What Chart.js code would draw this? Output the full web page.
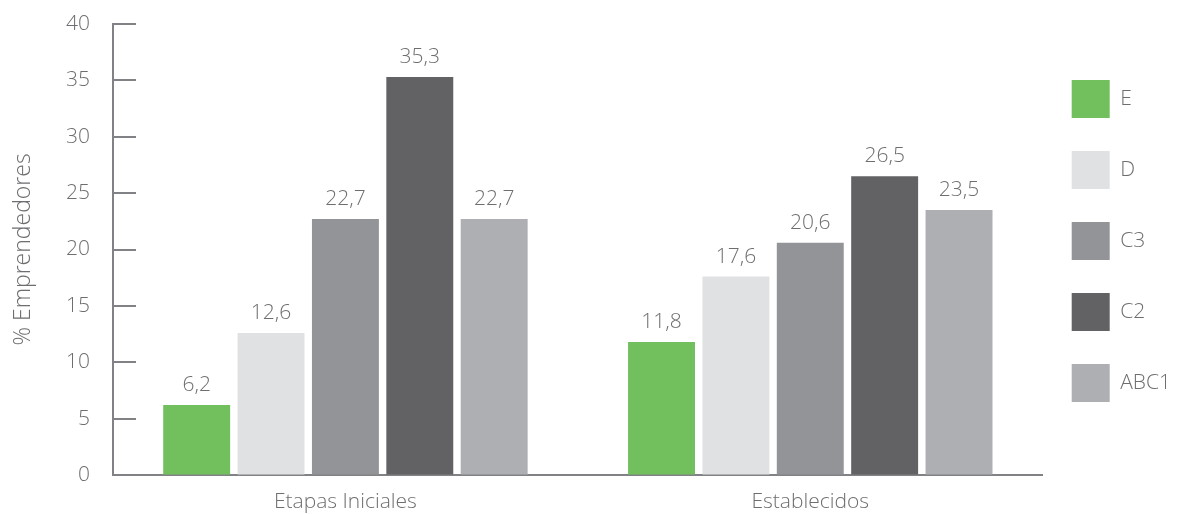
<!DOCTYPE html>
<html>
<head>
<meta charset="utf-8">
<script src="https://cdn.jsdelivr.net/npm/chart.js@4.4.1/dist/chart.umd.min.js"></script>
<style>
  html, body { margin: 0; padding: 0; background: #fff; }
  #wrap { width: 1178px; height: 514px; position: relative; }
</style>
</head>
<body>
<div id="wrap"><canvas id="chart"></canvas></div>
<script>
// categories and series
const categories = ['Etapas Iniciales', 'Establecidos'];
const seriesNames = ['E', 'D', 'C3', 'C2', 'ABC1'];
const valuesE = [6.2, 11.8];
const valuesD = [12.6, 17.6];
const valuesC3 = [22.7, 20.6];
const valuesC2 = [35.3, 26.5];
const valuesABC1 = [22.7, 23.5];
const yTicks = [0, 5, 10, 15, 20, 25, 30, 35, 40];

const colors = ['#72bf5e', '#e0e1e3', '#939497', '#626264', '#aeafb2'];
const textColor = '#6d6e71';
const axisColor = '#808285';
const fontFamily = '"Open Sans", "Segoe UI", sans-serif';

const seriesValues = [valuesE, valuesD, valuesC3, valuesC2, valuesABC1];

// short tick marks that point into the plot
const innerTicks = {
    id: 'innerTicks',
    afterDraw(chart) {
        const y = chart.scales.y;
        const ctx = chart.ctx;
        ctx.save();
        ctx.strokeStyle = axisColor;
        ctx.lineWidth = 2;
        yTicks.forEach(v => {
            const py = Math.round(y.getPixelForValue(v));
            ctx.beginPath();
            ctx.moveTo(chart.chartArea.left, py);
            ctx.lineTo(chart.chartArea.left + 23, py);
            ctx.stroke();
        });
        ctx.restore();
    }
};

// value labels above each bar, comma decimals
const barValues = {
    id: 'barValues',
    afterDatasetsDraw(chart) {
        const ctx = chart.ctx;
        ctx.save();
        ctx.font = '300 21px ' + fontFamily;
        ctx.fillStyle = textColor;
        ctx.textAlign = 'center';
        ctx.textBaseline = 'alphabetic';
        chart.data.datasets.forEach((ds, i) => {
            chart.getDatasetMeta(i).data.forEach((bar, j) => {
                const txt = ds.data[j].toFixed(1).replace('.', ',');
                ctx.fillText(txt, bar.x, bar.y - 14);
            });
        });
        ctx.restore();
    }
};

// nudge the legend column down next to the plot
const legendShift = {
    id: 'legendShift',
    afterLayout(chart) {
        const lg = chart.legend;
        lg.top = chart.chartArea.top + 23;
        lg.left -= 4;
    }
};

new Chart(document.getElementById('chart'), {
    type: 'bar',
    data: {
        labels: categories,
        datasets: seriesNames.map((name, i) => ({
            label: name,
            data: seriesValues[i],
            backgroundColor: colors[i],
            borderWidth: 0,
            barPercentage: 0.9,
            categoryPercentage: 0.8
        }))
    },
    options: {
        responsive: true,
        maintainAspectRatio: false,
        animation: false,
        layout: { padding: { top: 24, right: -7, left: 0, bottom: 0 } },
        plugins: {
            tooltip: { enabled: false },
            legend: {
                position: 'right',
                align: 'start',
                labels: {
                    boxWidth: 38,
                    boxHeight: 38,
                    padding: 33,
                    color: textColor,
                    font: { family: fontFamily, size: 21, weight: '300' }
                }
            }
        },
        scales: {
            x: {
                grid: { display: false, drawTicks: false },
                border: { color: axisColor, width: 2 },
                ticks: {
                    color: textColor,
                    padding: 14,
                    font: { family: fontFamily, size: 21, weight: '300' }
                },
                afterFit: s => { s.height = 39; }
            },
            y: {
                min: 0,
                max: 40,
                // outer tick space is kept blank; the visible ticks point inward
                grid: {
                    display: true,
                    drawOnChartArea: false,
                    drawTicks: true,
                    tickLength: 23,
                    tickColor: 'rgba(0,0,0,0)'
                },
                border: { color: axisColor, width: 2 },
                ticks: {
                    stepSize: 5,
                    color: textColor,
                    padding: 0,
                    font: { family: fontFamily, size: 21, weight: '300' }
                },
                title: {
                    display: true,
                    text: '% Emprendedores',
                    color: textColor,
                    padding: { top: 10, bottom: 0 },
                    font: { family: fontFamily, size: 23, weight: '300' }
                },
                afterFit: s => { s.width = 113; }
            }
        }
    },
    plugins: [innerTicks, barValues, legendShift]
});
</script>
</body>
</html>
